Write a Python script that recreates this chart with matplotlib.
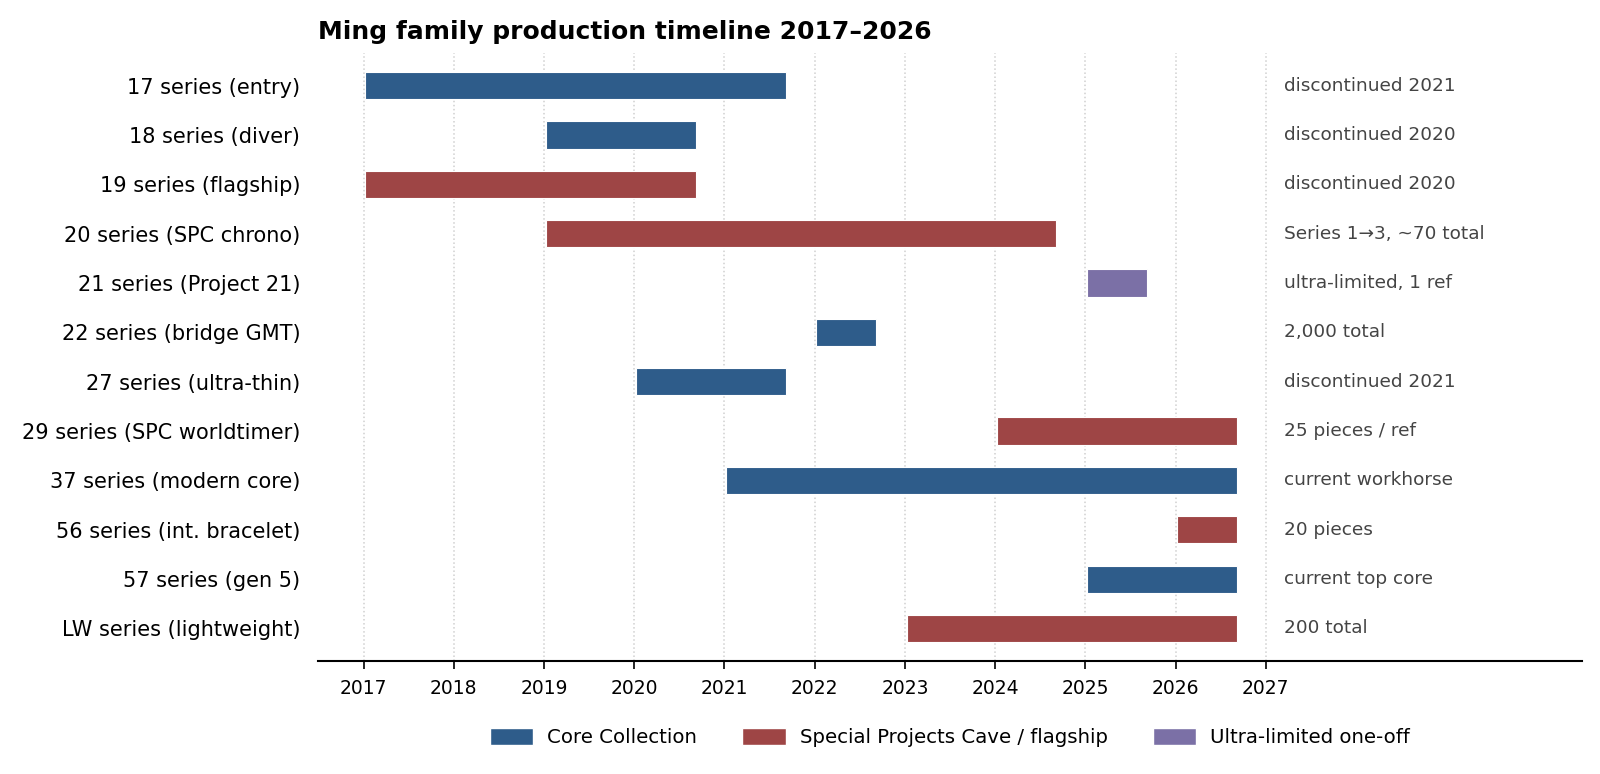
import matplotlib
matplotlib.use("Agg")
import matplotlib.pyplot as plt
from matplotlib.patches import Patch

# series, left to right in time
labels = ["17 series (entry)", "18 series (diver)", "19 series (flagship)",
          "20 series (SPC chrono)", "21 series (Project 21)", "22 series (bridge GMT)",
          "27 series (ultra-thin)", "29 series (SPC worldtimer)", "37 series (modern core)",
          "56 series (int. bracelet)", "57 series (gen 5)", "LW series (lightweight)"]
starts = [2017.02, 2019.02, 2017.02, 2019.02, 2025.02, 2022.02,
          2020.02, 2024.02, 2021.02, 2026.02, 2025.02, 2023.02]
ends = [2021.68, 2020.68, 2020.68, 2024.68, 2025.68, 2022.68,
        2021.68, 2026.68, 2026.68, 2026.68, 2026.68, 2026.68]
kinds = ["core", "core", "special", "special", "ultra", "core",
         "core", "special", "core", "special", "core", "special"]
notes = ["discontinued 2021", "discontinued 2020", "discontinued 2020",
         "Series 1\u21923, ~70 total", "ultra-limited, 1 ref", "2,000 total",
         "discontinued 2021", "25 pieces / ref", "current workhorse",
         "20 pieces", "current top core", "200 total"]
years = list(range(2017, 2028))

colors = {"core": "#2e5c8a", "special": "#9e4545", "ultra": "#7b70a6"}
legend_names = {"core": "Core Collection", "special": "Special Projects Cave / flagship",
                "ultra": "Ultra-limited one-off"}

fig = plt.figure(figsize=(16, 7.74), dpi=100)
ax = fig.add_axes([0.199, 0.146, 0.7895, 0.7855])

for i in range(len(labels)):
    ax.barh(i, ends[i] - starts[i], left=starts[i], height=0.55,
            color=colors[kinds[i]], edgecolor="white", linewidth=0.8, zorder=3)
    ax.text(2027.2, i, notes[i], va="center", ha="left", fontsize=13.3, color="#444444")

ax.set_yticks(range(len(labels)))
ax.set_yticklabels(labels, fontsize=15)
ax.set_ylim(11.66, -0.66)
ax.set_xlim(2016.5, 2030.5)
ax.set_xticks(years)
ax.set_xticklabels([str(y) for y in years], fontsize=13.5)
ax.tick_params(axis="y", length=0, pad=13)
ax.tick_params(axis="x", length=6, width=1.2, pad=7)
ax.grid(axis="x", linestyle=":", color="#d0d0d0", linewidth=1.1, zorder=0)

for s in ["top", "right", "left"]:
    ax.spines[s].set_visible(False)
ax.spines["bottom"].set_linewidth(1.5)

ax.set_title("Ming family production timeline 2017\u20132026", loc="left",
             fontsize=18, fontweight="bold", pad=10)

handles = [Patch(facecolor=colors[k], edgecolor="white", label=legend_names[k])
           for k in ["core", "special", "ultra"]]
ax.legend(handles=handles, loc="center", bbox_to_anchor=(0.5, -0.126),
          ncol=3, frameon=False, fontsize=14.2,
          handlelength=2.2, handleheight=1.0, handletextpad=0.7, columnspacing=2.3)

fig.savefig("out.png", dpi=100)
